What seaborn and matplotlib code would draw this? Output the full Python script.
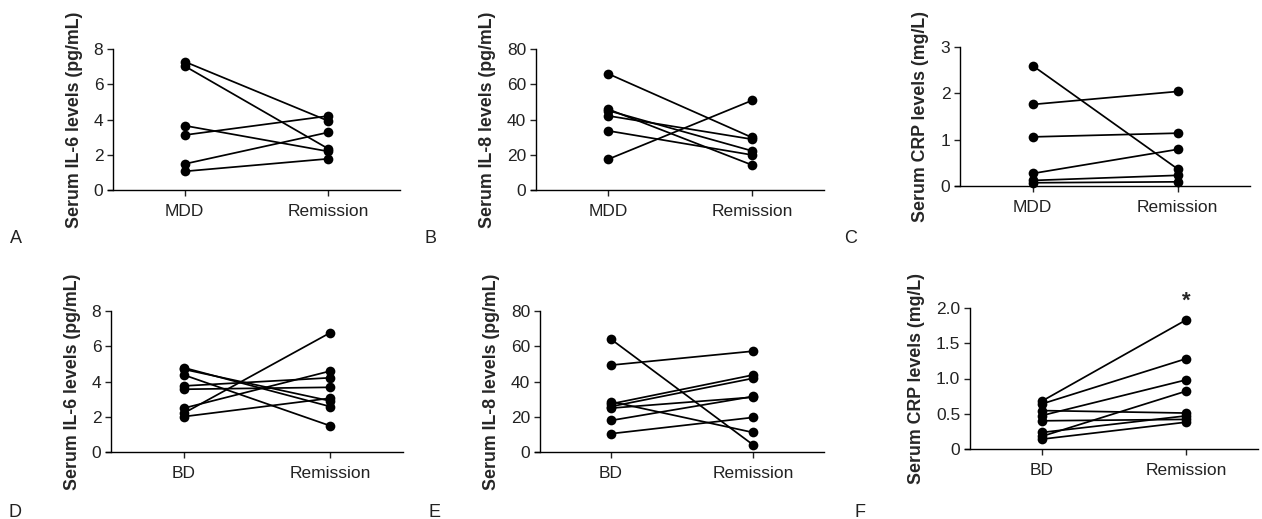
import seaborn as sns
import matplotlib.pyplot as plt
import pandas as pd

# valores (antes / remision, emparejados por sujeto)
a_pre = [7.28, 7.03, 3.65, 3.12, 1.48, 1.06]
a_post = [3.92, 2.34, 2.19, 4.20, 3.27, 1.77]

b_pre = [66.0, 45.9, 45.1, 42.1, 33.6, 17.4]
b_post = [29.8, 14.2, 22.2, 28.8, 19.9, 50.8]

c_pre = [2.60, 1.76, 1.06, 0.27, 0.12, 0.07]
c_post = [0.37, 2.04, 1.14, 0.79, 0.23, 0.09]

d_pre = [4.78, 4.69, 4.37, 3.75, 3.56, 2.49, 2.21, 2.01]
d_post = [2.58, 2.90, 1.49, 4.21, 3.67, 4.59, 6.76, 3.05]

e_pre = [64.0, 49.3, 28.6, 27.3, 25.8, 24.9, 17.9, 10.4]
e_post = [4.1, 57.2, 11.1, 43.7, 41.8, 31.1, 31.5, 19.6]

f_pre = [0.68, 0.64, 0.545, 0.475, 0.40, 0.235, 0.18, 0.14]
f_post = [1.83, 1.28, 0.51, 0.98, 0.42, 0.47, 0.82, 0.38]

ylabels = ['Serum IL-6 levels (pg/mL)', 'Serum IL-8 levels (pg/mL)', 'Serum CRP levels (mg/L)']
yticks_il6 = [0, 2, 4, 6, 8]
yticks_il8 = [0, 20, 40, 60, 80]
yticks_crp_mdd = [0, 1, 2, 3]
yticks_crp_bd = [0, 0.5, 1.0, 1.5, 2.0]
yticklabels_crp_bd = ['0', '0.5', '1.0', '1.5', '2.0']

sns.set_theme(style='ticks')
plt.rcParams['font.family'] = ['Liberation Sans', 'DejaVu Sans']

W, H = 1262, 519
fig = plt.figure(figsize=(W / 100, H / 100), dpi=100)

# (letra, grupo, pre, post, ticks, ticklabels, ylabel, x_izq, x_der, y_arriba, y_abajo)
panels = [
    ('A', 'MDD', a_pre, a_post, yticks_il6, None, ylabels[0], 113, 400, 49, 190),
    ('B', 'MDD', b_pre, b_post, yticks_il8, None, ylabels[1], 536, 824, 49, 190),
    ('C', 'MDD', c_pre, c_post, yticks_crp_mdd, None, ylabels[2], 960, 1250, 47, 186),
    ('D', 'BD', d_pre, d_post, yticks_il6, None, ylabels[0], 111, 403, 311, 452),
    ('E', 'BD', e_pre, e_post, yticks_il8, None, ylabels[1], 540, 824, 311, 452),
    ('F', 'BD', f_pre, f_post, yticks_crp_bd, yticklabels_crp_bd, ylabels[2], 970, 1258, 308, 449),
]

for letter, group, pre, post, ticks, tlabels, ylab, x0, x1, yt, yb in panels:
    ax = fig.add_axes([x0 / W, 1 - yb / H, (x1 - x0) / W, (yb - yt) / H])
    n = len(pre)
    df = pd.DataFrame({
        'subject': list(range(n)) * 2,
        'cond': [group] * n + ['Remission'] * n,
        'value': pre + post,
    })
    sns.lineplot(data=df, x='cond', y='value', units='subject', estimator=None,
                 color='black', marker='o', markersize=7, markeredgewidth=0,
                 linewidth=1.25, ax=ax, clip_on=False)
    ax.set_xlim(-0.5, 1.5)
    ax.set_ylim(ticks[0], ticks[-1])
    ax.set_yticks(ticks)
    if tlabels is not None:
        ax.set_yticklabels(tlabels)
    ax.set_xlabel('')
    ax.set_ylabel(ylab, fontsize=12.8, fontweight='bold', labelpad=8)
    sns.despine(ax=ax)
    for s in ['left', 'bottom']:
        ax.spines[s].set_linewidth(1.0)
        ax.spines[s].set_color('black')
    ax.spines['bottom'].set_bounds(-0.535, 1.5)
    ax.tick_params(axis='both', labelsize=12.5, colors='#222222', length=4, width=1.0, pad=3)
    ax.tick_params(axis='x', pad=6)
    ax.set_facecolor('white')
    fig.text((x0 - 103) / W if x0 < 200 else (x0 - 111) / W if x0 < 600 else (x0 - 116) / W,
             1 - (243 if yt < 100 else 517) / H, letter, fontsize=13, va='baseline', color='#222222')
    if letter == 'F':
        ax.text(1, 1.95, '*', ha='center', va='bottom', fontsize=16, fontweight='bold')

fig.savefig('out.png', dpi=100, facecolor='white')
